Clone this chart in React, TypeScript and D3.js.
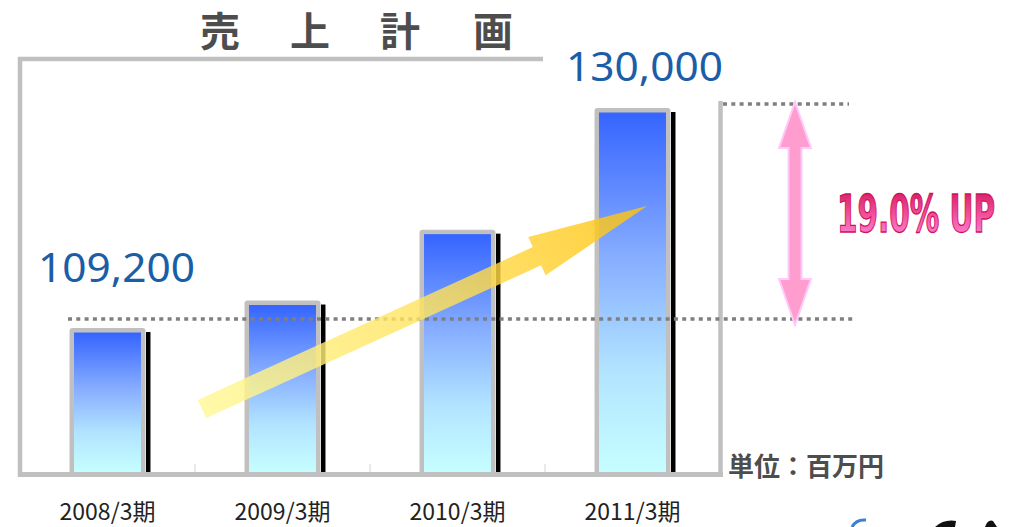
import React from 'react';
import * as d3 from 'd3';

const categories = ['2008/3期', '2009/3期', '2010/3期', '2011/3期'];
const sales = [109200, 111800, 118500, 130000];
const labeledIdx = [0, 3];
const titleChars = ['売', ' ', '上', ' ', '計', ' ', '画'];
const unitText = '単位：百万円';
const growthText = '19.0% UP';

const W = 1016;
const H = 527;

export default function App() {
  const x = d3
    .scaleBand<string>()
    .domain(categories)
    .range([20, 720])
    .paddingInner(0.566)
    .paddingOuter(0.283);
  const y = d3.scaleLinear().domain([95400, 130000]).range([474, 108]);
  const base = y(95400);
  const bw = x.bandwidth();
  const step = x.step();
  const fmt = d3.format(',');
  const jp = '"Noto Sans CJK JP", "Noto Sans", sans-serif';

  // yellow trend arrow (annotation)
  const S: [number, number] = [202, 409];
  const T: [number, number] = [647, 206];
  const len = Math.hypot(T[0] - S[0], T[1] - S[1]);
  const u = [(T[0] - S[0]) / len, (T[1] - S[1]) / len];
  const n = [-u[1], u[0]];
  const sw = 10;
  const hw = 21;
  const lb = len - 121;
  const P = (a: number, b: number) => [S[0] + u[0] * a + n[0] * b, S[1] + u[1] * a + n[1] * b].join(',');
  const yellowPts = [P(0, -sw), P(lb, -sw), P(lb, -hw), P(len, 0), P(lb, hw), P(lb, sw), P(0, sw)].join(' ');

  // dotted reference lines
  const lowY = y(sales[0]) - 9;
  const highY = y(sales[sales.length - 1]) - 4;

  // pink double arrow
  const cx = 795;
  const top = highY - 2;
  const bot = lowY + 6;
  const ph = 16;
  const ps = 6.5;
  const hl = 46;
  const pinkPts = [
    [cx, top], [cx + ph, top + hl], [cx + ps, top + hl], [cx + ps, bot - hl], [cx + ph, bot - hl],
    [cx, bot], [cx - ph, bot - hl], [cx - ps, bot - hl], [cx - ps, top + hl], [cx - ph, top + hl],
  ].map((p) => p.join(',')).join(' ');

  const titleX = [200, 245, 290, 335, 380, 427, 473];

  return (
    <svg
      width={W}
      height={H}
      style={{ position: 'absolute', left: 0, top: 0, display: 'block', background: '#fff' }}
    >
      <defs>
        <linearGradient id="barGrad" x1="0" y1="0" x2="0" y2="1">
          <stop offset="0" stopColor="#3564ff" />
          <stop offset="0.4" stopColor="#86adff" />
          <stop offset="0.72" stopColor="#b2e4ff" />
          <stop offset="1" stopColor="#c6feff" />
        </linearGradient>
        <linearGradient id="yellowGrad" gradientUnits="userSpaceOnUse" x1={S[0]} y1={S[1]} x2={T[0]} y2={T[1]}>
          <stop offset="0" stopColor="#fff896" />
          <stop offset="0.5" stopColor="#ffe35e" />
          <stop offset="1" stopColor="#ffc10a" />
        </linearGradient>
        <linearGradient id="pinkText" x1="0" y1="0" x2="0" y2="1">
          <stop offset="0" stopColor="#cf0f55" />
          <stop offset="0.5" stopColor="#f0509a" />
          <stop offset="1" stopColor="#ff96e8" />
        </linearGradient>
      </defs>

      {/* title */}
      <text
        x={titleX.join(' ')}
        y={46}
        fontFamily={jp}
        fontWeight={700}
        fontSize={40}
        fill="#4d4d4d"
        xmlSpace="preserve"
      >
        {titleChars.join('')}
      </text>

      {/* frame */}
      <g stroke="#c0c0c0" strokeWidth={4.5} fill="none">
        <line x1={20} y1={57} x2={20} y2={477} />
        <line x1={18} y1={59} x2={543} y2={59} />
        <line x1={720.5} y1={101} x2={720.5} y2={477} />
      </g>

      {/* category ticks */}
      {categories.slice(0, -1).map((c) => {
        const tx = (x(c) as number) + bw / 2 + step / 2;
        return <line key={c} x1={tx} x2={tx} y1={464} y2={472} stroke="#d4d4d4" strokeWidth={1} />;
      })}

      {/* bars */}
      {categories.map((c, i) => {
        const x0 = x(c) as number;
        const yt = y(sales[i]);
        return (
          <g key={c}>
            <rect x={x0 + bw + 0.5} y={yt + 4} width={4.5} height={base - yt - 4} fill="#000" />
            <rect x={x0} y={yt} width={bw} height={base - yt} rx={3} fill="#c0c0c0" />
            <rect x={x0 + 4.5} y={yt + 4.5} width={bw - 9} height={base - yt - 6.5} fill="url(#barGrad)" />
          </g>
        );
      })}

      {/* bottom axis line */}
      <line x1={18} y1={474.5} x2={723} y2={474.5} stroke="#c0c0c0" strokeWidth={5} />

      {/* dotted lines */}
      <g stroke="#7f7f7f" strokeWidth={3.5} strokeDasharray="4 4.3">
        <line x1={68} y1={lowY} x2={854} y2={lowY} />
        <line x1={723} y1={highY} x2={849} y2={highY} />
      </g>

      {/* yellow trend arrow */}
      <polygon points={yellowPts} fill="url(#yellowGrad)" fillOpacity={0.82} />

      {/* pink double arrow */}
      <polygon points={pinkPts} fill="#ff9dcf" stroke="#ffc9fb" strokeWidth={2} strokeLinejoin="miter" />

      {/* value labels */}
      {labeledIdx.map((i) => {
        const c = categories[i];
        const cxl = (x(c) as number) + bw / 2;
        const off = i === 0 ? { dx: 9, dy: 46 } : { dx: 12, dy: 27 };
        return (
          <text
            key={c}
            x={cxl + off.dx}
            y={y(sales[i]) - off.dy}
            textAnchor="middle"
            fontFamily='"Noto Sans", "Open Sans", sans-serif'
            fontSize={40}
            fill="#1b5ea7"
            textLength={157}
            lengthAdjust="spacingAndGlyphs"
          >
            {fmt(sales[i])}
          </text>
        );
      })}

      {/* growth label */}
      <text
        transform="translate(837,232) scale(1,1.4)"
        x={0}
        y={0}
        fontFamily='"Liberation Sans Narrow", "DejaVu Sans Condensed", "Liberation Sans", sans-serif'
        fontWeight={700}
        fontSize={37}
        fill="url(#pinkText)"
        stroke="#d0105c"
        strokeWidth={0.9}
        textLength={158}
        lengthAdjust="spacingAndGlyphs"
      >
        {growthText}
      </text>

      {/* unit */}
      <text x={728} y={476} fontFamily={jp} fontWeight={700} fontSize={26} fill="#4d4d4d">
        {unitText}
      </text>

      {/* category labels */}
      {categories.map((c) => (
        <text
          key={c}
          x={(x(c) as number) + bw / 2}
          y={520}
          textAnchor="middle"
          fontFamily={jp}
          fontSize={23}
          fill="#222"
        >
          {c}
        </text>
      ))}

      {/* partial logo fragment at bottom right */}
      <path d="M852,527 Q856,519 866,520" stroke="#3a7fd0" strokeWidth={3} fill="none" />
      <path d="M935,527 Q944,519 956,521 L955,527 Z" fill="#111" />
      <path d="M985,527 Q988,519 993,521 L997,527 Z" fill="#111" />
    </svg>
  );
}
